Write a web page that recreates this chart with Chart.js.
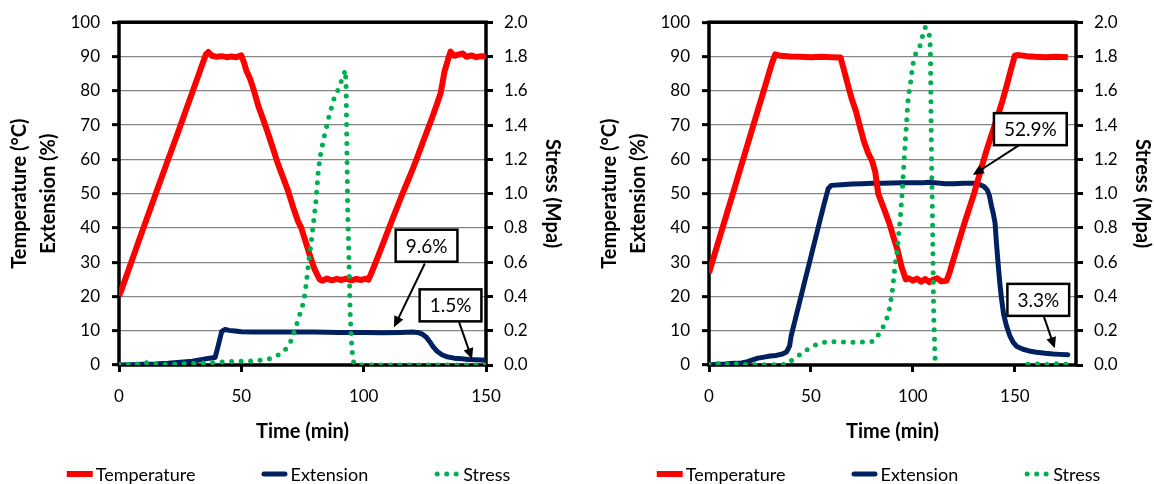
<!DOCTYPE html>
<html>
<head>
<meta charset="utf-8">
<script src="https://cdn.jsdelivr.net/npm/chart.js@4.4.1/dist/chart.umd.min.js"></script>
<style>
  html, body { margin: 0; padding: 0; background: #fff; overflow: hidden; }
  #wrap { position: relative; width: 1154px; height: 484px; overflow: hidden; }
  canvas { position: absolute; top: 0; }
  #chartA { left: 0; }
  #chartB { left: 590px; }
</style>
</head>
<body>
<div id="wrap">
  <canvas id="chartA" width="577" height="484"></canvas>
  <canvas id="chartB" width="577" height="484"></canvas>
</div>
<script>
// left test (max 150 min)
const tempTimeA = [0, 1, 4, 8, 12, 16, 20, 24, 28, 31, 34, 35.5, 36.5, 38, 40, 42, 44, 46, 48, 50,
  51, 52, 53.5, 55, 57, 59, 61, 63, 65, 67, 69, 71, 73, 74.5, 76, 78, 80, 82, 83, 85,
  87, 89, 91, 93, 95, 97, 99, 101, 102, 104, 106, 108, 110, 112, 114, 116, 118, 120, 122, 124,
  126, 128, 130, 131.5, 133, 134.5, 135.5, 137, 139, 140.5, 142, 144, 146, 148, 150];
const tempA = [20.2, 21.9, 27.9, 36.0, 44.0, 51.9, 59.8, 67.6, 75.6, 81.6, 87.6, 90.6, 91.3, 90.2, 89.9, 90.1, 89.8, 90.0, 89.8, 90.3,
  88.4, 86.0, 83.6, 80.4, 75.4, 71.5, 67.4, 63.0, 58.6, 54.8, 51.0, 46.4, 42.2, 40.0, 36.6, 32.0, 27.8, 25.0, 24.6, 25.2,
  24.7, 25.1, 24.8, 25.2, 24.7, 25.1, 24.8, 25.2, 24.9, 28.3, 31.9, 35.6, 39.3, 43.0, 46.6, 50.2, 53.6, 57.1, 60.8, 64.6,
  68.4, 72.2, 76.2, 79.4, 85.5, 89.2, 91.4, 90.2, 90.6, 90.9, 89.9, 90.3, 89.8, 90.1, 90.0];

const extTimeA = [0, 5, 10, 15, 20, 25, 30, 34, 37, 39.3, 40.5, 42, 43.4, 45, 47.5, 50, 55, 60, 70, 80,
  90, 100, 107.5, 115, 120, 122, 124, 125.5, 127, 128.5, 130, 132, 134, 137, 140, 143, 146, 150];
const extA = [0, 0.1, 0.2, 0.3, 0.5, 0.8, 1.1, 1.6, 2.0, 2.2, 5.5, 9.8, 10.4, 10.1, 9.9, 9.7, 9.6, 9.6, 9.6, 9.6,
  9.5, 9.5, 9.4, 9.5, 9.6, 9.5, 9.0, 8.2, 6.8, 5.2, 4.0, 3.0, 2.4, 2.0, 1.8, 1.6, 1.5, 1.4];

const stressTimeA = [0, 2, 4, 6, 8, 10, 12, 14, 17, 20, 24, 28, 32, 36, 40, 44, 48, 52, 56, 60,
  62, 64, 66, 68, 70, 72, 74, 75.5, 76.5, 77.5, 78.5, 79.5, 80.5, 81.5, 82.5, 84, 86, 88, 90, 91.2,
  92.5, 92.8, 93.5, 93.9, 94.5, 95.2, 95.9, 97, 100, 110, 120, 130, 140, 150];
const stressA = [0.005, 0.01, 0.002, 0.012, 0.004, 0.01, 0.015, 0.005, 0.008, 0.003, 0.006, 0.008, 0.01, 0.012, 0.015, 0.02, 0.022, 0.022, 0.025, 0.03,
  0.038, 0.05, 0.065, 0.09, 0.13, 0.21, 0.3, 0.37, 0.47, 0.6, 0.71, 0.83, 0.96, 1.14, 1.24, 1.34, 1.46, 1.56, 1.62, 1.67,
  1.72, 1.64, 0.87, 0.67, 0.29, 0.09, 0.015, 0.003, 0, 0, 0, 0, 0, 0];

// right test (max 180 min)
const tempTimeB = [0, 4, 8, 12, 16, 20, 24, 28, 31, 32.5, 35, 40, 45, 50, 55, 60, 64.5, 66, 68, 70,
  72, 74, 76, 78, 80, 81.5, 83, 84.5, 86.5, 88.5, 90.5, 92.5, 94.5, 96.5, 98, 100, 102, 104, 106, 108,
  110, 112, 114, 116.5, 118, 120, 122, 124, 126, 128, 130, 132, 134, 136, 138, 140, 142, 144, 146, 148,
  150, 152, 156, 160, 165, 170, 176];
const tempB = [26.9, 34.8, 42.7, 50.6, 58.5, 66.5, 74.4, 82.3, 88.3, 90.6, 90.2, 90.0, 89.9, 89.8, 89.9, 89.8, 89.7, 86.5, 82.0, 77.6,
  74.2, 69.6, 65.2, 61.9, 59.5, 56.4, 50.0, 47.6, 44.5, 41.2, 37.2, 33.5, 28.5, 25.0, 25.3, 24.6, 25.2, 24.3, 25.1, 24.2,
  24.9, 25.3, 24.4, 24.6, 27.0, 31.0, 35.0, 38.9, 42.7, 46.3, 50.0, 54.2, 58.3, 62.4, 66.1, 69.7, 73.4, 77.2, 81.5, 86.0,
  90.3, 90.4, 90.1, 89.9, 89.8, 89.9, 89.8];

const extTimeB = [0, 4, 8, 12, 16, 19, 21, 24, 27, 30, 33, 36, 38, 39.5, 40.3, 44, 47, 50, 53, 56,
  58.5, 60, 65, 70, 75, 80, 85, 90, 95, 100, 105, 108, 112, 116, 120, 125, 130, 133, 135, 136.5,
  137.5, 138.5, 139.5, 140.3, 141, 141.9, 142.7, 143.5, 144.5, 145.9, 147.5, 149.2, 151, 154, 157, 160.6, 165, 168.7, 172, 176];
const extB = [0, 0.2, 0.3, 0.5, 0.6, 1.0, 1.4, 2.0, 2.3, 2.6, 2.8, 3.2, 3.8, 5.5, 8.5, 17.3, 24.5, 31.6, 38.8, 45.9,
  51.5, 52.4, 52.6, 52.8, 52.9, 53.0, 53.0, 53.1, 53.2, 53.2, 53.2, 53.3, 53.1, 52.9, 52.9, 53.0, 53.0, 52.6, 52.0, 51.0,
  49.5, 46.5, 44.0, 41.4, 35.5, 28.8, 23.5, 19.2, 14.8, 11.4, 8.6, 6.6, 5.4, 4.6, 4.1, 3.7, 3.4, 3.2, 3.1, 3.0];

const stressTimeB = [0, 2, 4, 6, 8, 10, 12, 14, 16, 18, 20, 23, 26, 30, 34, 38, 40.3, 42.5, 45.2, 47.5,
  50, 52.5, 54.9, 57.5, 60, 65, 70, 75, 78, 80, 81.7, 83, 84.2, 85.5, 86.6, 88, 89, 90, 90.7, 91.5,
  92.3, 93.1, 93.9, 94.6, 95.2, 95.8, 96.4, 97, 97.5, 98.2, 98.8, 99.6, 100.4, 101.5, 102.9, 103.8, 104.5, 105.3, 106.1, 107,
  107.8, 108.3, 108.6, 108.9, 109.2, 109.6, 110.2, 111, 112, 120, 130, 140, 150, 155, 160, 165, 170, 176];
const stressB = [0.003, 0.012, 0.006, 0.01, 0.002, 0.008, 0.014, 0.004, 0.009, 0.003, 0.006, 0, 0.002, 0, 0.002, 0.004, 0.025, 0.045, 0.064, 0.085,
  0.1, 0.118, 0.128, 0.134, 0.136, 0.135, 0.132, 0.134, 0.133, 0.137, 0.15, 0.175, 0.2, 0.225, 0.25, 0.3, 0.36, 0.44, 0.52, 0.6,
  0.67, 0.77, 0.87, 0.98, 1.1, 1.21, 1.33, 1.43, 1.53, 1.6, 1.64, 1.72, 1.78, 1.82, 1.85, 1.87, 1.91, 1.94, 1.97, 1.96,
  1.95, 1.9, 1.84, 1.45, 1.15, 0.87, 0.29, 0, -0.03, -0.03, -0.03, -0.03, -0.03, 0.004, 0.006, 0.003, 0.007, 0.004];

const timeTicks = [0, 50, 100, 150];

// callouts: box centre and arrow ends, in axis units
const notesA = [
  { text: '9.6%', x: 125.7, y: 34.8, tailX: 125, tailY: 29.6, tipX: 112.4, tipY: 11 },
  { text: '1.5%', x: 135.5, y: 17.4, tailX: 139, tailY: 12.5, tipX: 144.3, tipY: 1.7 }
];
const notesB = [
  { text: '52.9%', x: 157.6, y: 68.8, tailX: 152.5, tailY: 64.3, tipX: 129.4, tipY: 55.4 },
  { text: '3.3%', x: 161.5, y: 19, tailX: 164.2, tailY: 14.2, tipX: 169.6, tipY: 4.9 }
];

Chart.defaults.font.family = 'Lato';
Chart.defaults.color = '#000';

const pts = (xs, ys) => xs.map((x, i) => ({ x: x, y: ys[i] }));

const framePlugin = {
  id: 'frame',
  beforeDatasetsDraw(chart) {
    const { ctx, chartArea: a } = chart;
    ctx.save();
    ctx.strokeStyle = '#000';
    ctx.lineWidth = 3.5;
    ctx.strokeRect(a.left, a.top, a.right - a.left, a.bottom - a.top);
    ctx.restore();
  }
};

const legendPlugin = {
  id: 'bottomLegend',
  afterDraw(chart) {
    const ctx = chart.ctx;
    const sets = chart.data.datasets;
    const sample = 26, gap = 3, spacing = 66, y = 474;
    ctx.save();
    ctx.font = '18px Lato';
    const widths = sets.map(d => sample + gap + ctx.measureText(d.label).width);
    const total = widths.reduce((a, b) => a + b, 0) + spacing * (sets.length - 1);
    let x = (chart.width - total) / 2;
    sets.forEach((d, i) => {
      ctx.beginPath();
      ctx.strokeStyle = d.borderColor;
      ctx.lineWidth = d.borderWidth;
      ctx.lineCap = d.borderCapStyle || 'butt';
      if (d.borderDash) {
        ctx.setLineDash(d.borderDash);
        ctx.moveTo(x + 3, y);
        ctx.lineTo(x + 23, y);
      } else {
        const inset = d.borderCapStyle === 'round' ? d.borderWidth / 2 : 0;
        ctx.moveTo(x + inset, y);
        ctx.lineTo(x + sample - inset, y);
      }
      ctx.stroke();
      ctx.setLineDash([]);
      ctx.fillStyle = '#000';
      ctx.textBaseline = 'middle';
      ctx.fillText(d.label, x + sample + gap, y + 1);
      x += widths[i] + spacing;
    });
    ctx.restore();
  }
};

const calloutPlugin = notes => ({
  id: 'callouts',
  afterDatasetsDraw(chart) {
    const { ctx, scales: { x, y } } = chart;
    ctx.save();
    ctx.font = '19px Lato';
    notes.forEach(n => {
      const tx = x.getPixelForValue(n.tailX), ty = y.getPixelForValue(n.tailY);
      const hx = x.getPixelForValue(n.tipX), hy = y.getPixelForValue(n.tipY);
      const ang = Math.atan2(hy - ty, hx - tx);
      const c = Math.cos(ang), s = Math.sin(ang);
      ctx.strokeStyle = '#000';
      ctx.fillStyle = '#000';
      ctx.lineWidth = 2;
      ctx.beginPath();
      ctx.moveTo(tx, ty);
      ctx.lineTo(hx - c * 8, hy - s * 8);
      ctx.stroke();
      ctx.beginPath();
      ctx.moveTo(hx, hy);
      ctx.lineTo(hx - 11 * c + 5 * s, hy - 11 * s - 5 * c);
      ctx.lineTo(hx - 11 * c - 5 * s, hy - 11 * s + 5 * c);
      ctx.closePath();
      ctx.fill();

      const cx = x.getPixelForValue(n.x), cy = y.getPixelForValue(n.y);
      const w = ctx.measureText(n.text).width + 20, h = 32;
      ctx.lineWidth = 2.5;
      ctx.fillStyle = '#fff';
      ctx.fillRect(cx - w / 2, cy - h / 2, w, h);
      ctx.strokeRect(cx - w / 2, cy - h / 2, w, h);
      ctx.fillStyle = '#000';
      ctx.textAlign = 'center';
      ctx.textBaseline = 'middle';
      ctx.fillText(n.text, cx, cy + 1);
    });
    ctx.restore();
  }
});

function makeChart(id, temp, ext, stress, xMax, notes) {
  return new Chart(document.getElementById(id), {
    type: 'line',
    data: {
      datasets: [
        { label: 'Temperature', data: temp, borderColor: '#ff0000', borderWidth: 6,
          borderJoinStyle: 'round', yAxisID: 'y', order: 1 },
        { label: 'Extension', data: ext, borderColor: '#002060', borderWidth: 5,
          borderCapStyle: 'round', borderJoinStyle: 'round', yAxisID: 'y', order: 2 },
        { label: 'Stress', data: stress, borderColor: '#00b050', borderWidth: 5,
          borderDash: [0, 9.5], borderCapStyle: 'round', yAxisID: 'y2', order: 0 }
      ]
    },
    options: {
      responsive: false,
      animation: false,
      elements: { point: { radius: 0, hoverRadius: 0 } },
      layout: { padding: { top: 20, bottom: 34, left: 0, right: 0 } },
      plugins: { legend: { display: false }, tooltip: { enabled: false } },
      scales: {
        x: {
          type: 'linear', min: 0, max: xMax,
          afterFit: s => { s.height = 85; },
          afterBuildTicks: s => { s.ticks = s.ticks.filter(t => timeTicks.includes(t.value)); },
          ticks: { stepSize: 50, padding: 14, font: { size: 17 } },
          grid: { drawOnChartArea: false, tickLength: 7, tickWidth: 3, tickColor: '#000' },
          border: { display: false },
          title: { display: true, text: 'Time (min)', font: { size: 20, weight: 'bold', lineHeight: 1.2 },
                   padding: { top: 0, bottom: 6 } }
        },
        y: {
          position: 'left', min: 0, max: 100,
          afterFit: s => { s.width = 119; },
          ticks: { stepSize: 10, padding: 12, font: { size: 17 } },
          grid: { color: '#858585', lineWidth: 1.3, tickLength: 7, tickWidth: 3, tickColor: '#000' },
          border: { display: false },
          title: { display: true, text: ['Temperature (°C)', 'Extension (%)'],
                   font: { size: 20, weight: 'bold', lineHeight: 1.45 }, padding: { top: 5.5, bottom: 0 } }
        },
        y2: {
          position: 'right', min: 0, max: 2,
          afterFit: s => { s.width = 91; },
          ticks: { stepSize: 0.2, padding: 11, font: { size: 17 }, callback: v => v.toFixed(1) },
          grid: { drawOnChartArea: false, tickLength: 7, tickWidth: 3, tickColor: '#000' },
          border: { display: false },
          title: { display: true, text: 'Stress (Mpa)', font: { size: 20, weight: 'bold', lineHeight: 1.2 },
                   padding: { top: 13, bottom: 0 } }
        }
      }
    },
    plugins: [framePlugin, calloutPlugin(notes), legendPlugin]
  });
}

makeChart('chartA', pts(tempTimeA, tempA), pts(extTimeA, extA), pts(stressTimeA, stressA), 150, notesA);
makeChart('chartB', pts(tempTimeB, tempB), pts(extTimeB, extB), pts(stressTimeB, stressB), 180, notesB);
</script>
</body>
</html>
